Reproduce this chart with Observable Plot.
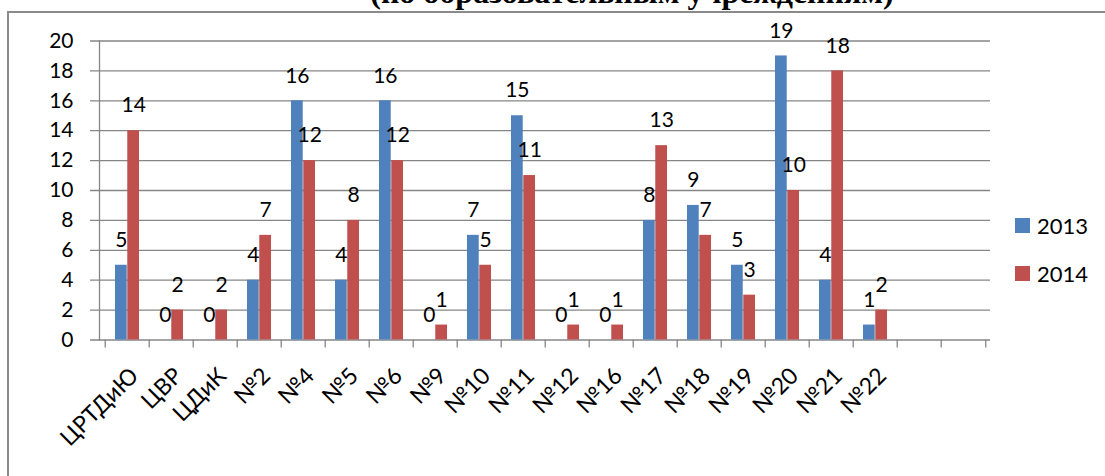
<!DOCTYPE html>
<html>
<head>
<meta charset="utf-8">
<script src="https://cdn.jsdelivr.net/npm/d3@7"></script>
<script src="https://cdn.jsdelivr.net/npm/@observablehq/plot@0.6"></script>
<style>
  body { margin: 0; background: #fff; }
  #wrap { position: relative; width: 1105px; height: 476px; overflow: hidden; font-family: Lato, "Open Sans", sans-serif; }
  #title { position: absolute; left: 0; width: 1264px; text-align: center; top: -24px; font-family: "Liberation Serif", "Times New Roman", serif; font-weight: bold; font-size: 32px; line-height: 32px; color: #000; white-space: nowrap; }
  #frame { position: absolute; left: 7px; top: 11px; width: 1200px; height: 600px; border-left: 2px solid #8a8a8a; border-top: 2px solid #8a8a8a; }
  .leg { position: absolute; left: 1015px; font-size: 22px; line-height: 22px; color: #000; display: flex; align-items: center; }
  .leg span.sw { display: inline-block; width: 15px; height: 15px; margin-right: 7px; }
</style>
</head>
<body>
<div id="wrap">
  <div id="chart"></div>
  <div id="title">(по образовательным учреждениям)</div>
  <div id="frame"></div>
</div>
<script>
const categories = ["ЦРТДиЮ","ЦВР","ЦДиК","№2","№4","№5","№6","№9","№10","№11","№12","№16","№17","№18","№19","№20","№21","№22"];
const emptySlots = [" ", "  "];
const values2013 = [5,0,0,4,16,4,16,0,7,15,0,0,8,9,5,19,4,1];
const values2014 = [14,2,2,7,12,8,12,1,5,11,1,1,13,7,3,10,18,2];
const seriesNames = ["2013", "2014"];
const seriesColors = ["#4F81BD", "#C0504D"];
const yTicks = [0,2,4,6,8,10,12,14,16,18,20];

const domainX = categories.concat(emptySlots);
const W = 1105, H = 476, mL = 99, mR = 115, mT = 40.5, mB = 136.5;
const bw = (W - mL - mR) / domainX.length;
const barW = 12.3, outer = (bw - 2 * barW) / 2;

const rows2013 = categories.map((c, i) => ({cat: c, v: values2013[i]}));
const rows2014 = categories.map((c, i) => ({cat: c, v: values2014[i]}));

const grey = "#868686";

const chart = Plot.plot({
  width: W, height: H,
  marginLeft: mL, marginRight: mR, marginTop: mT, marginBottom: mB,
  style: {fontFamily: "Lato, 'Open Sans', sans-serif", fontSize: "21px", color: "#000", background: "transparent"},
  x: {domain: domainX, padding: 0, label: null},
  y: {domain: [0, 20], ticks: yTicks, tickSize: 0, tickPadding: 26, label: null},
  marks: [
    Plot.ruleY(yTicks, {stroke: grey, strokeWidth: 1.3, insetLeft: -9}),
    Plot.ruleX(domainX, {x: d => d, y1: 0, y2: 0, insetBottom: -8, dx: -bw / 2, stroke: grey, strokeWidth: 1.3}),
    Plot.ruleX(domainX.slice(-1), {x: d => d, y1: 0, y2: 0, insetBottom: -8, dx: bw / 2, stroke: grey, strokeWidth: 1.3}),
    Plot.frame({anchor: "left", stroke: grey, strokeWidth: 1.3}),
    Plot.barY(rows2013, {x: "cat", y: "v", fill: seriesColors[0], insetLeft: outer, insetRight: outer + barW}),
    Plot.barY(rows2014, {x: "cat", y: "v", fill: seriesColors[1], insetLeft: outer + barW, insetRight: outer}),
    Plot.text(rows2013, {x: "cat", y: "v", text: d => String(d.v), dx: -barW / 2, dy: -25, fill: "#000", fontSize: 21}),
    Plot.text(rows2014, {x: "cat", y: "v", text: d => String(d.v), dx: barW / 2, dy: -25, fill: "#000", fontSize: 21}),
    Plot.axisX({tickSize: 0, tickRotate: -45, tickPadding: 6, fontSize: 23, dx: 7, dy: 26, label: null})
  ]
});
document.getElementById("chart").appendChild(chart);

const wrap = document.getElementById("wrap");
seriesNames.forEach((name, i) => {
  const d = document.createElement("div");
  d.className = "leg";
  d.style.top = (214.5 + i * 48) + "px";
  const sw = document.createElement("span");
  sw.className = "sw";
  sw.style.background = seriesColors[i];
  d.appendChild(sw);
  d.appendChild(document.createTextNode(name));
  wrap.appendChild(d);
});
</script>
</body>
</html>
